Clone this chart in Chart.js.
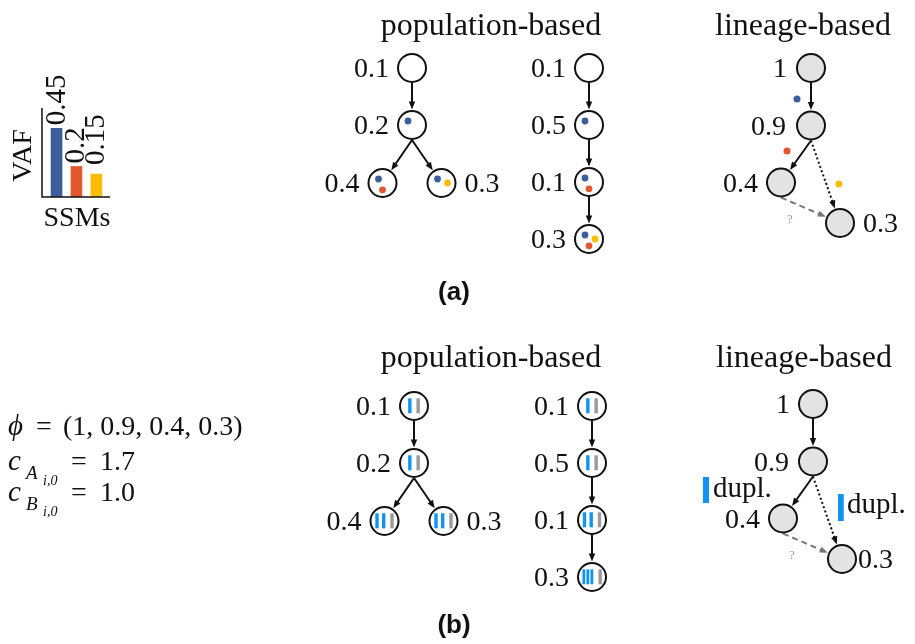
<!DOCTYPE html>
<html>
<head>
<meta charset="utf-8">
<script src="https://cdn.jsdelivr.net/npm/chart.js@4.4.0/dist/chart.umd.min.js"></script>
<style>
html, body { margin: 0; padding: 0; background: #fff; }
#wrap { position: relative; width: 915px; height: 644px; }
#main { position: absolute; left: 0; top: 0; }
#vaf { position: absolute; left: 0; top: 0; }
</style>
</head>
<body>
<div id="wrap">
  <canvas id="main" width="915" height="644"></canvas>
  <canvas id="vaf" width="130" height="240"></canvas>
</div>
<script>
// ---- data ----
var ssmNames = ['SSM 1', 'SSM 2', 'SSM 3'];
var vafValues = [0.45, 0.2, 0.15];
var ssmColors = ['#3b5e9c', '#e4572e', '#fbbc05'];

var popFreqLeft = [0.1, 0.2, 0.4, 0.3];
var popFreqRight = [0.1, 0.5, 0.1, 0.3];
var lineageFreq = [1, 0.9, 0.4, 0.3];
var popParentLeft = [-1, 0, 1, 1];
var popParentRight = [-1, 0, 1, 2];
// SSMs present in each population (index into ssmNames)
var popSsmLeft = [[], [0], [0, 1], [0, 2]];
var popSsmRight = [[], [0], [0, 1], [0, 2, 1]];
// copies of allele A (blue bars) per population, allele B always 1 (grey bar)
var copiesLeft = [1, 1, 2, 2];
var copiesRight = [1, 1, 2, 3];
var copiesB = 1;
var phi = [1, 0.9, 0.4, 0.3];
var cA = 1.7;
var cB = 1.0;

// ---- styles / layout ----
var serif = '"Liberation Serif", "DejaVu Serif", serif';
var R = 14;
var blueCopy = '#0f94ef';
var greyCopy = '#9a9a9a';
var lineageFill = '#e3e3e3';
var edgeStyles = {
  solid: { color: '#111', dash: [] },
  dot: { color: '#111', dash: [2, 2.5] },
  dash: { color: '#777', dash: [6, 4] }
};
var popForkOffs = [[0, 0], [0, 57], [-29.5, 115], [29.5, 115]];
var popChainOffs = [[0, 0], [0, 57], [0, 114], [0, 171]];
var linOffs = [[0, 0], [0, 57.5], [-30, 114.5], [29, 155]];
var linEdges = [[0, 1, 'solid'], [1, 2, 'solid'], [1, 3, 'dot'], [2, 3, 'dash']];

function parentEdges(par) {
  var out = [];
  par.forEach(function (p, i) { if (p >= 0) out.push([p, i, 'solid']); });
  return out;
}

var trees = [
  { kind: 'pop', x: 412, y: 68, offs: popForkOffs, freq: popFreqLeft, edges: parentEdges(popParentLeft), ssm: popSsmLeft, side: ['l', 'l', 'l', 'r'], gap: [23, 23, 23, 23] },
  { kind: 'pop', x: 589, y: 68, offs: popChainOffs, freq: popFreqRight, edges: parentEdges(popParentRight), ssm: popSsmRight, side: ['l', 'l', 'l', 'l'], gap: [23, 23, 23, 23] },
  { kind: 'lin', x: 811, y: 68, offs: linOffs, freq: lineageFreq, edges: linEdges, side: ['l', 'l', 'l', 'r'], gap: [24, 25, 23, 23] },
  { kind: 'pop', x: 414, y: 406, offs: popForkOffs, freq: popFreqLeft, edges: parentEdges(popParentLeft), copies: copiesLeft, side: ['l', 'l', 'l', 'r'], gap: [23, 23, 23, 23] },
  { kind: 'pop', x: 592, y: 406, offs: popChainOffs, freq: popFreqRight, edges: parentEdges(popParentRight), copies: copiesRight, side: ['l', 'l', 'l', 'l'], gap: [23, 23, 23, 23] },
  { kind: 'lin', x: 813, y: 404, offs: linOffs, freq: lineageFreq, edges: linEdges, side: ['l', 'l', 'l', 'r'], gap: [23, 24, 23, 16] }
];
// SSM dot offsets inside a node
var dotOffs = [[-4, -4], [0, 6.8], [6, 0]];

var datasets = [];
var dsInfo = [];
trees.forEach(function (t) {
  var pts = t.offs.map(function (d) { return { x: t.x + d[0], y: t.y + d[1] }; });
  datasets.push({
    type: 'scatter', data: pts, pointRadius: R, pointHoverRadius: R, pointBorderWidth: 2,
    pointBackgroundColor: t.kind === 'lin' ? lineageFill : '#fff', pointBorderColor: '#111', order: 0
  });
  dsInfo.push({ tree: t });
  t.edges.forEach(function (e) {
    var p = pts[e[0]], c = pts[e[1]];
    var s = { x: p.x, y: p.y + R + 1 };
    var dx = c.x - s.x, dy = c.y - s.y, L = Math.hypot(dx, dy);
    var ux = dx / L, uy = dy / L;
    var tip = { x: c.x - ux * (R + 1.5), y: c.y - uy * (R + 1.5) };
    var end = { x: tip.x - ux * 6, y: tip.y - uy * 6 };
    var st = edgeStyles[e[2]];
    datasets.push({
      type: 'scatter', showLine: true, data: [s, end], borderColor: st.color, borderWidth: 2,
      borderDash: st.dash, pointRadius: 0, pointHoverRadius: 0, order: 1
    });
    dsInfo.push({ arrow: { tip: tip, ux: ux, uy: uy, color: st.color } });
  });
});

function drawMath(ctx) {
  ctx.textAlign = 'left';
  ctx.textBaseline = 'alphabetic';
  ctx.fillStyle = '#111';
  var it = 'italic 29px ' + serif, rm = '28px ' + serif;
  ctx.font = it; ctx.fillText('\u03D5', 8, 435);
  ctx.font = rm; ctx.textAlign = 'center'; ctx.fillText('=', 44, 435);
  ctx.textAlign = 'left'; ctx.fillText('(' + phi.join(', ') + ')', 63, 435);
  var rows = [['A', 470, cA], ['B', 501, cB]];
  rows.forEach(function (r) {
    ctx.font = it; ctx.fillText('c', 8, r[1]);
    ctx.font = 'italic 19px ' + serif; ctx.fillText(r[0], 26, r[1] + 9);
    ctx.font = 'italic 14px ' + serif; ctx.fillText('i,0', 43, r[1] + 15);
    ctx.font = rm; ctx.textAlign = 'center'; ctx.fillText('=', 79, r[1]);
    ctx.textAlign = 'left'; ctx.fillText(r[2].toFixed(1), 100, r[1]);
  });
}

var diagramPlugin = {
  id: 'diagram',
  afterDatasetsDraw: function (chart) {
    var ctx = chart.ctx, sx = chart.scales.x, sy = chart.scales.y;
    function X(v) { return sx.getPixelForValue(v); }
    function Y(v) { return sy.getPixelForValue(v); }
    ctx.save();
    dsInfo.forEach(function (info, i) {
      if (info.arrow) {
        var a = info.arrow, tx = X(a.tip.x), ty = Y(a.tip.y);
        var bx = tx - a.ux * 8, by = ty - a.uy * 8;
        ctx.fillStyle = a.color;
        ctx.beginPath();
        ctx.moveTo(tx, ty);
        ctx.lineTo(bx - a.uy * 3.2, by + a.ux * 3.2);
        ctx.lineTo(bx + a.uy * 3.2, by - a.ux * 3.2);
        ctx.closePath();
        ctx.fill();
        return;
      }
      var t = info.tree;
      var meta = chart.getDatasetMeta(i);
      meta.data.forEach(function (pt, j) {
        var cx = pt.x, cy = pt.y;
        if (t.ssm) {
          t.ssm[j].forEach(function (k) {
            ctx.fillStyle = ssmColors[k];
            ctx.beginPath();
            ctx.arc(cx + dotOffs[k][0], cy + dotOffs[k][1], 3.4, 0, Math.PI * 2);
            ctx.fill();
          });
        }
        if (t.copies) {
          var n = t.copies[j];
          var step = n >= 3 ? 4 : 6.7, w = n >= 3 ? 2.8 : 3.4, gGap = 8.3;
          var first = -((n - 1) * step + gGap) / 2;
          ctx.fillStyle = blueCopy;
          for (var b = 0; b < n; b++) ctx.fillRect(cx + first + b * step - w / 2, cy - 7.7, w, 15);
          ctx.fillStyle = greyCopy;
          for (var g = 0; g < copiesB; g++) ctx.fillRect(cx + first + (n - 1) * step + gGap - 1.7, cy - 7.7, 3.4, 15);
        }
        ctx.fillStyle = '#111';
        ctx.font = '28px ' + serif;
        ctx.textBaseline = 'alphabetic';
        if (t.side[j] === 'l') { ctx.textAlign = 'right'; ctx.fillText(String(t.freq[j]), cx - t.gap[j], cy + 9); }
        else { ctx.textAlign = 'left'; ctx.fillText(String(t.freq[j]), cx + t.gap[j], cy + 9); }
      });
      if (t.kind === 'lin') {
        var ox = X(t.x), oy = Y(t.y);
        ctx.fillStyle = '#999';
        ctx.font = '13px ' + serif;
        ctx.textAlign = 'center';
        ctx.textBaseline = 'middle';
        ctx.fillText('?', ox - 21, oy + 152);
        if (t.y < 300) {
          var edgeDots = [[-14, 31], [-24, 83], [28, 116]];
          edgeDots.forEach(function (d, k) {
            ctx.fillStyle = ssmColors[k];
            ctx.beginPath();
            ctx.arc(ox + d[0], oy + d[1], 3.5, 0, Math.PI * 2);
            ctx.fill();
          });
        } else {
          ctx.fillStyle = blueCopy;
          ctx.fillRect(ox - 110, oy + 73, 6, 26);
          ctx.fillRect(ox + 25, oy + 90, 5.7, 27);
          ctx.fillStyle = '#111';
          ctx.font = '29px ' + serif;
          ctx.textAlign = 'left';
          ctx.textBaseline = 'alphabetic';
          ctx.fillText('dupl.', ox - 100, oy + 93);
          ctx.fillText('dupl.', ox + 34, oy + 109);
        }
      }
    });
    // titles
    ctx.fillStyle = '#111';
    ctx.textAlign = 'center';
    ctx.textBaseline = 'alphabetic';
    ctx.font = '32px ' + serif;
    ctx.fillText('population-based', X(491), Y(35));
    ctx.fillText('lineage-based', X(803), Y(35));
    ctx.fillText('population-based', X(491), Y(367));
    ctx.fillText('lineage-based', X(804), Y(367));
    ctx.font = 'bold 26px "Liberation Sans", Arial, sans-serif';
    ctx.textBaseline = 'middle';
    ctx.fillText('(a)', X(454), Y(293));
    ctx.fillText('(b)', X(454), Y(626));
    drawMath(ctx);
    ctx.restore();
  }
};

new Chart(document.getElementById('main'), {
  data: { datasets: datasets },
  options: {
    responsive: false,
    animation: false,
    events: [],
    layout: { padding: 0, autoPadding: false },
    plugins: { legend: { display: false }, tooltip: { enabled: false } },
    scales: {
      x: { type: 'linear', min: 0, max: 915, display: false },
      y: { type: 'linear', min: 0, max: 644, reverse: true, display: false }
    }
  },
  plugins: [diagramPlugin]
});

// ---- small VAF bar chart ----
var vafDeco = {
  id: 'vafDeco',
  afterDraw: function (chart) {
    var ctx = chart.ctx, a = chart.chartArea;
    var sx = chart.scales.x, sy = chart.scales.y;
    ctx.save();
    ctx.strokeStyle = '#111';
    ctx.lineWidth = 1.5;
    ctx.beginPath();
    ctx.moveTo(a.left, a.top);
    ctx.lineTo(a.left, a.bottom);
    ctx.lineTo(a.right, a.bottom);
    ctx.stroke();
    ctx.fillStyle = '#111';
    ctx.font = '29px ' + serif;
    ctx.textAlign = 'left';
    ctx.textBaseline = 'alphabetic';
    vafValues.forEach(function (v, i) {
      var x = sx.getPixelForValue(i + 1) + 8;
      var y = Math.min(sy.getPixelForValue(v) - 3, 165);
      ctx.save();
      ctx.translate(x, y);
      ctx.rotate(-Math.PI / 2);
      ctx.fillText(String(v), 0, 0);
      ctx.restore();
    });
    ctx.font = '28px ' + serif;
    ctx.save();
    ctx.translate(31, 155.5);
    ctx.rotate(-Math.PI / 2);
    ctx.textAlign = 'center';
    ctx.fillText('VAF', 0, 0);
    ctx.restore();
    ctx.textAlign = 'center';
    ctx.fillText('SSMs', (a.left + a.right) / 2 + 1, 226);
    ctx.restore();
  }
};

new Chart(document.getElementById('vaf'), {
  type: 'bar',
  data: {
    labels: ssmNames,
    datasets: [{
      data: vafValues.map(function (v, i) { return { x: i + 1, y: v }; }),
      backgroundColor: ssmColors,
      borderWidth: 0,
      barThickness: 11
    }]
  },
  options: {
    responsive: false,
    animation: false,
    events: [],
    layout: { padding: { left: 42, top: 108, right: 20, bottom: 43 }, autoPadding: false },
    plugins: { legend: { display: false }, tooltip: { enabled: false } },
    scales: {
      x: { type: 'linear', min: 0.27, max: 3.685, offset: false, display: false },
      y: { min: 0, max: 0.583, display: false }
    }
  },
  plugins: [vafDeco]
});
</script>
</body>
</html>
